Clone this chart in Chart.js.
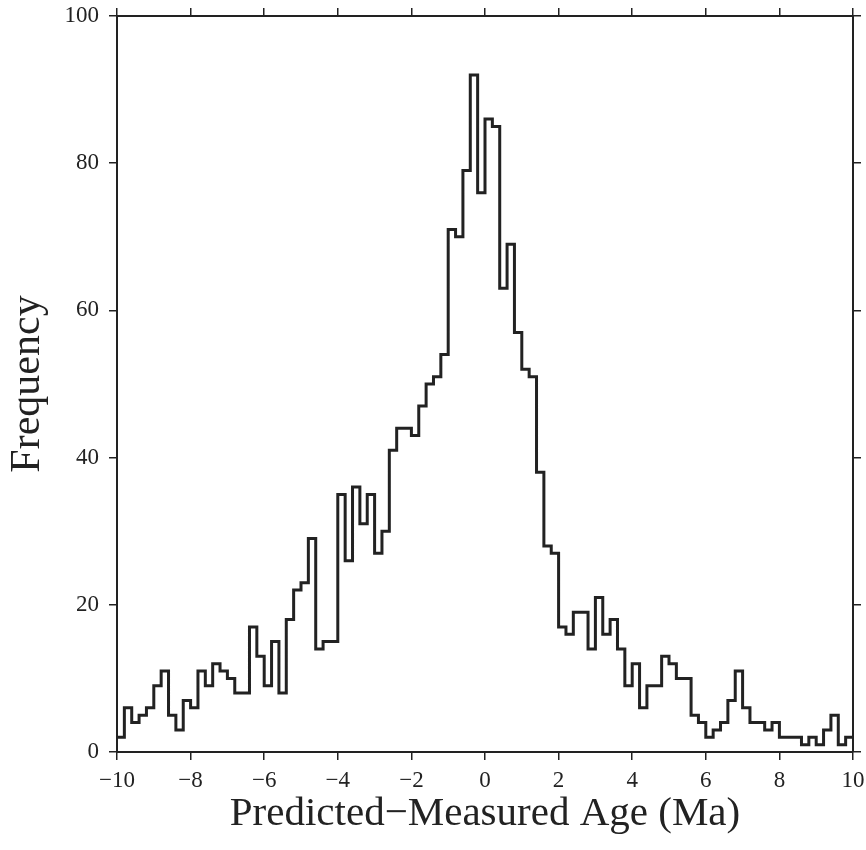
<!DOCTYPE html>
<html>
<head>
<meta charset="utf-8">
<script src="https://cdn.jsdelivr.net/npm/chart.js@4.4.1/dist/chart.umd.min.js"></script>
<style>
  html, body { margin: 0; padding: 0; background: #fff; }
  canvas { display: block; }
</style>
</head>
<body>
<canvas id="hist" width="866" height="850"></canvas>
<script>
// histogram: 100 bins of 0.2 Ma from -10 to 10
const binStart = -10;
const binWidth = 0.2;
const counts = [
    2, 6, 4, 5, 6, 9, 11, 5, 3, 7,
    6, 11, 9, 12, 11, 10, 8, 8, 17, 13,
    9, 15, 8, 18, 22, 23, 29, 14, 15, 15,
    35, 26, 36, 31, 35, 27, 30, 41, 44, 44,
    43, 47, 50, 51, 54, 71, 70, 79, 92, 76,
    86, 85, 63, 69, 57, 52, 51, 38, 28, 27,
    17, 16, 19, 19, 14, 21, 16, 18, 14, 9,
    12, 6, 9, 9, 13, 12, 10, 10, 5, 4,
    2, 3, 4, 7, 11, 6, 4, 4, 3, 4,
    2, 2, 2, 1, 2, 1, 3, 5, 1, 2,
];
const xTicks = [-10, -8, -6, -4, -2, 0, 2, 4, 6, 8, 10];
const yTicks = [0, 20, 40, 60, 80, 100];

const xTitle = "Predicted\u2212Measured Age (Ma)";
const yTitle = "Frequency";

// step points at the left edge of each bin, plus the closing right edge
const points = counts.map((c, i) => ({ x: binStart + i * binWidth, y: c }));
points.push({ x: binStart + counts.length * binWidth, y: counts[counts.length - 1] });

const ink = "#222";
const serif = "'Liberation Serif', 'DejaVu Serif', serif";

function fmt(v) {
    return v < 0 ? "\u2212" + Math.abs(v) : String(v);
}

function axis(extra) {
    return {
        grid: {
            display: true,
            drawOnChartArea: false,
            drawTicks: true,
            tickLength: 8,
            color: ink,
            lineWidth: 1.5,
        },
        border: { display: true, color: ink, width: 2 },
        ...extra,
    };
}

// pin the plot box, ignore label overflow padding
function pin(size) {
    return (s) => {
        if (s.isHorizontal()) s.height = size;
        else s.width = size;
        s.paddingTop = 0;
        s.paddingBottom = 0;
        s.paddingLeft = 0;
        s.paddingRight = 0;
    };
}

const ctx = document.getElementById("hist").getContext("2d");

new Chart(ctx, {
    type: "line",
    data: {
        datasets: [
            {
                data: points,
                stepped: "before",
                borderColor: ink,
                borderWidth: 3,
                pointRadius: 0,
                fill: false,
            },
        ],
    },
    options: {
        responsive: false,
        animation: false,
        layout: { padding: 0 },
        plugins: {
            legend: { display: false },
            tooltip: { enabled: false },
        },
        scales: {
            x: axis({
                type: "linear",
                position: "bottom",
                min: -10,
                max: 10,
                afterBuildTicks: (s) => { s.ticks = xTicks.map((v) => ({ value: v })); },
                afterFit: pin(98),
                ticks: {
                    padding: 7,
                    maxRotation: 0,
                    color: ink,
                    font: { family: serif, size: 23 },
                    callback: (v) => fmt(v),
                },
                title: {
                    display: true,
                    text: xTitle,
                    color: ink,
                    font: { family: serif, size: 41 },
                    padding: { top: 0, bottom: 11 },
                },
            }),
            x2: axis({
                type: "linear",
                position: "top",
                min: -10,
                max: 10,
                afterBuildTicks: (s) => { s.ticks = xTicks.map((v) => ({ value: v })); },
                afterFit: pin(16),
                ticks: { display: false },
            }),
            y: axis({
                type: "linear",
                position: "left",
                min: 0,
                max: 100,
                afterBuildTicks: (s) => { s.ticks = yTicks.map((v) => ({ value: v })); },
                afterFit: pin(117),
                ticks: {
                    padding: 10,
                    color: ink,
                    font: { family: serif, size: 23 },
                },
                title: {
                    display: true,
                    text: yTitle,
                    color: ink,
                    font: { family: serif, size: 42 },
                    padding: { top: 3, bottom: 0 },
                },
            }),
            y2: axis({
                type: "linear",
                position: "right",
                min: 0,
                max: 100,
                afterBuildTicks: (s) => { s.ticks = yTicks.map((v) => ({ value: v })); },
                afterFit: pin(13),
                ticks: { display: false },
            }),
        },
    },
});
</script>
</body>
</html>
